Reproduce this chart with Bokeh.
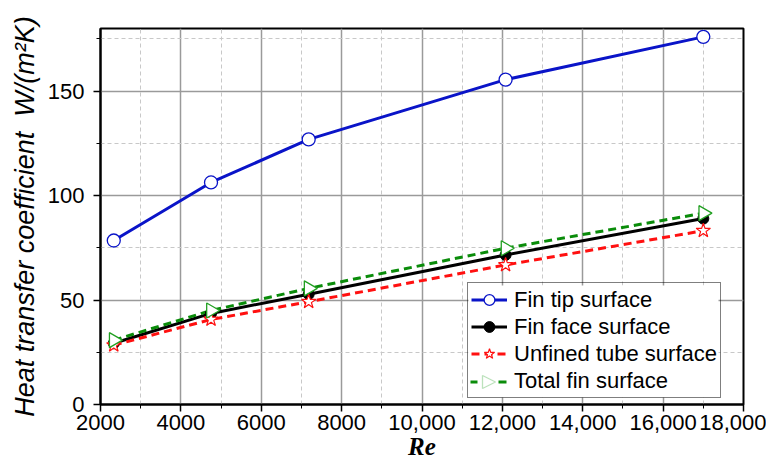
import math
from bokeh.plotting import figure
from bokeh.models import FixedTicker, Range1d, PolyAnnotation, BoxAnnotation
from bokeh.embed import file_html
from bokeh.resources import INLINE

# ---- data ----
re_vals = [2330, 4750, 7180, 12080, 17000]
fin_tip = [78.5, 106.3, 126.9, 155.5, 176.0]
fin_face = [29.3, 43.6, 52.8, 71.6, 89.0]
unfined_tube = [28.4, 40.7, 49.2, 66.8, 83.2]
total_fin = [30.8, 45.0, 55.6, 74.8, 91.6]

x_major = [2000, 4000, 6000, 8000, 10000, 12000, 14000, 16000, 18000]
x_minor = [3000, 5000, 7000, 9000, 11000, 13000, 15000, 17000]
x_labels = ["2000", "4000", "6000", "8000", "10,000", "12,000", "14,000", "16,000", "18,000"]
y_major = [0, 50, 100, 150]
y_minor = [25, 75, 125, 175]

series_names = ["Fin tip surface", "Fin face surface", "Unfined tube surface", "Total fin surface"]

FONT = "Liberation Sans"
BL, BR, BT, BB = 100, 23, 28, 58
W, H = 766, 462

p = figure(width=W, height=H, output_backend="svg", toolbar_location=None,
           x_range=Range1d(2000, 18000), y_range=Range1d(0, 180),
           min_border_left=BL, min_border_right=BR, min_border_top=BT, min_border_bottom=BB)

p.background_fill_color = "white"
p.border_fill_color = "white"
p.outline_line_color = "black"
p.outline_line_width = 2
p.outline_line_alpha = 1

# ticks & grid
p.xaxis.ticker = FixedTicker(ticks=x_major, minor_ticks=x_minor)
p.yaxis.ticker = FixedTicker(ticks=y_major, minor_ticks=y_minor)
p.xaxis.major_label_overrides = {t: l for t, l in zip(x_major, x_labels)}

for g in (p.xgrid, p.ygrid):
    g.grid_line_color = "#9a9a9a"
    g.grid_line_width = 1.5
    g.minor_grid_line_color = "#c8c8c8"
    g.minor_grid_line_width = 1
    g.minor_grid_line_dash = "4 3"

for ax in (p.xaxis, p.yaxis):
    ax.axis_line_color = "black"
    ax.axis_line_width = 2
    ax.major_tick_line_color = "black"
    ax.major_tick_line_width = 1.5
    ax.major_tick_out = 7
    ax.major_tick_in = 0
    ax.minor_tick_line_color = "black"
    ax.minor_tick_line_width = 1
    ax.minor_tick_out = 4
    ax.minor_tick_in = 0
    ax.major_label_text_font = FONT
    ax.major_label_text_font_size = "22px"
    ax.major_label_text_color = "black"

p.xaxis.major_label_standoff = 3
p.yaxis.major_label_standoff = 9

p.xaxis.axis_label = "Re"
p.xaxis.axis_label_text_font = "Liberation Serif"
p.xaxis.axis_label_text_font_style = "bold italic"
p.xaxis.axis_label_text_font_size = "25px"
p.xaxis.axis_label_text_color = "black"
p.xaxis.axis_label_standoff = 0

p.yaxis.axis_label = "Heat transfer coefficient\u00a0 W/(m\u00b2K)"
p.yaxis.axis_label_text_font = FONT
p.yaxis.axis_label_text_font_style = "italic"
p.yaxis.axis_label_text_font_size = "27px"
p.yaxis.axis_label_text_color = "black"
p.yaxis.axis_label_standoff = 5

# ---- series ----
blue = "#0a14c8"
red = "#ff1010"
green = "#0a8c0a"
green_marker = "#22a022"
p.line(re_vals, fin_tip, line_color=blue, line_width=3, legend_label=series_names[0])
p.line(re_vals, fin_face, line_color="black", line_width=3, legend_label=series_names[1])
p.line(re_vals, unfined_tube, line_color=red, line_width=3, line_dash="8 5",
       legend_label=series_names[2])
# legend entry for the total-fin series (its sample is drawn below, since the
# legend cannot rotate the triangle marker)
p.line(re_vals, total_fin, line_alpha=0, legend_label=series_names[3])
p.line(re_vals, total_fin, line_color=green, line_width=3, line_dash="8 5")

p.scatter(re_vals, fin_tip, marker="circle", size=13, fill_color="white",
          line_color=blue, line_width=1.3, legend_label=series_names[0])
p.scatter(re_vals, fin_face, marker="circle", size=11, fill_color="black",
          line_color="black", legend_label=series_names[1])
p.scatter(re_vals, unfined_tube, marker="star", size=15, fill_color="white",
          line_color=red, line_width=1.2, legend_label=series_names[2])
p.scatter(re_vals, total_fin, marker="triangle", size=15, angle=-math.pi / 2,
          fill_color="white", line_color=green_marker, line_width=1.3)

# ---- legend ----
LEG_X, LEG_Y, PAD, ROW, GW, LEG_W = 367, 6, 3, 27, 36, 252
lg = p.legend[0]
lg.location = (LEG_X, LEG_Y)
lg.margin = 0
lg.padding = PAD
lg.spacing = 0
lg.glyph_width = GW
lg.glyph_height = ROW
lg.label_height = ROW
lg.label_standoff = 7
lg.label_text_font = FONT
lg.label_text_font_size = "22px"
lg.label_text_color = "black"
lg.border_line_color = "black"
lg.border_line_width = 1.5
lg.background_fill_alpha = 0

# screen units below are frame-relative, y measured upward from the frame bottom
leg_h = 4 * ROW + 2 * PAD
p.add_layout(BoxAnnotation(left=LEG_X + 1, right=LEG_X + LEG_W - 1,
                           bottom=LEG_Y + 1, top=LEG_Y + leg_h - 1,
                           left_units="screen", right_units="screen",
                           bottom_units="screen", top_units="screen",
                           fill_color="white", fill_alpha=1, line_alpha=0,
                           level="annotation"))

gx0 = LEG_X + PAD
cy = LEG_Y + PAD + ROW / 2
cx = gx0 + GW / 2
for a, b in ((gx0, gx0 + 7), (cx + 10, gx0 + GW)):
    p.add_layout(BoxAnnotation(left=a, right=b, bottom=cy - 1.5, top=cy + 1.5,
                               left_units="screen", right_units="screen",
                               bottom_units="screen", top_units="screen",
                               fill_color=green, fill_alpha=1, line_alpha=0,
                               level="annotation"))
p.add_layout(PolyAnnotation(xs=[cx - 6, cx - 6, cx + 7], ys=[cy + 6.5, cy - 6.5, cy],
                            xs_units="screen", ys_units="screen",
                            fill_color="white", fill_alpha=1,
                            line_color=green_marker, line_width=1.3, level="annotation"))

open("out.html", "w").write(file_html(p, INLINE))
